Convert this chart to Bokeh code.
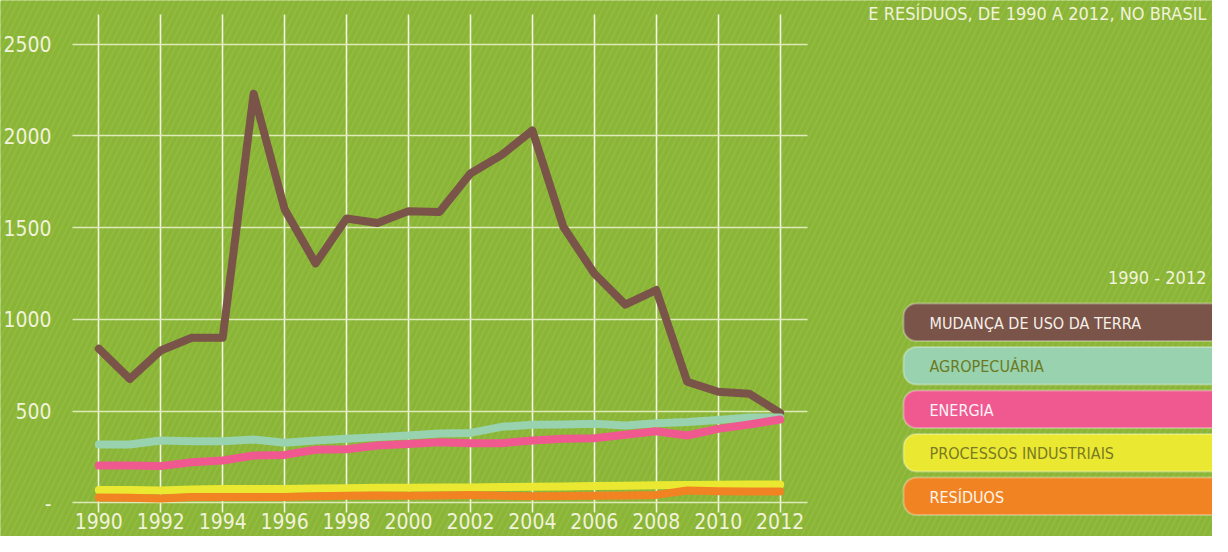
from bokeh.plotting import figure
from bokeh.models import (Range1d, LinearAxis, FixedTicker, BoxAnnotation, Label,
                          ColumnDataSource, Grid)
from bokeh.embed import file_html
from bokeh.resources import INLINE

# ---------------- data ----------------
years = list(range(1990, 2013))
mudanca = [840, 675, 830, 900, 900, 2230, 1600, 1305, 1550, 1525, 1590, 1585,
           1795, 1895, 2030, 1505, 1250, 1080, 1160, 660, 605, 595, 490]
agropecuaria = [318, 318, 340, 336, 336, 345, 327, 340, 349, 358, 367, 378,
                381, 414, 425, 427, 431, 421, 434, 440, 452, 465, 465]
energia = [203, 203, 200, 221, 231, 258, 261, 289, 292, 312, 321, 330,
           325, 325, 340, 349, 352, 371, 390, 367, 403, 427, 454]
processos = [70, 70, 67, 73, 75, 75, 75, 78, 80, 82, 82, 83,
             84, 86, 88, 89, 91, 93, 95, 97, 99, 100, 100]
residuos = [29, 28, 23, 31, 32, 32, 32, 36, 38, 40, 38, 40,
            43, 38, 36, 37, 38, 40, 43, 67, 63, 61, 61]

series_names = ["MUDANÇA DE USO DA TERRA", "AGROPECUÁRIA", "ENERGIA",
                "PROCESSOS INDUSTRIAIS", "RESÍDUOS"]
series_keys = ["mudanca", "agropecuaria", "energia", "processos", "residuos"]
x_ticks = list(range(1990, 2013, 2))
y_ticks = [0, 500, 1000, 1500, 2000, 2500]
y_tick_labels = {0: "-"}
legend_title = "1990 - 2012"
top_title = "E RESÍDUOS, DE 1990 A 2012, NO BRASIL"

# ---------------- style ----------------
GREEN = "#93bd3e"
STRIPE = "#8ab538"
CREAM = "#f1f2da"
FONT = "DejaVu Sans Condensed, Roboto"
line_colors = ["#7a5349", "#98d2ae", "#ef5990", "#ebe832", "#f28322"]
text_colors = ["#f6efe8", "#6b7a22", "#fdf2f6", "#7a7a22", "#fff5ea"]

# canvas-pixel -> data helpers (layout only)
def X(px):
    return 1990 + (px - 98.3) / 30.97

def Y(py):
    return (502.3 - py) / 0.18344

W, H = 1212, 536
p = figure(width=W, height=H, x_range=Range1d(X(0), X(W)),
           y_range=Range1d(Y(H), Y(0)), output_backend="svg",
           toolbar_location=None, x_axis_type=None, y_axis_type=None,
           min_border=0, background_fill_color=GREEN, border_fill_color=GREEN,
           outline_line_color=None)

# striped background
bg = BoxAnnotation(fill_color=GREEN, fill_alpha=1.0, line_color=None,
                   hatch_pattern="/", hatch_color=STRIPE, hatch_scale=12,
                   hatch_weight=4, level="image")
p.add_layout(bg)

# axes
xaxis = LinearAxis(ticker=FixedTicker(ticks=x_ticks), fixed_location=Y(511))
xaxis.axis_line_color = None
xaxis.major_tick_line_color = None
xaxis.minor_tick_line_color = None
xaxis.major_tick_in = 0
xaxis.major_tick_out = 0
xaxis.major_label_standoff = 1
xaxis.major_label_text_font = FONT
xaxis.major_label_text_font_size = "21px"
xaxis.major_label_text_color = CREAM
p.add_layout(xaxis, "below")

yaxis = LinearAxis(ticker=FixedTicker(ticks=y_ticks), fixed_location=X(72))
yaxis.axis_line_color = None
yaxis.major_tick_line_color = None
yaxis.minor_tick_line_color = None
yaxis.major_tick_in = 0
yaxis.major_tick_out = 0
yaxis.major_label_standoff = 21
yaxis.major_label_text_font = FONT
yaxis.major_label_text_font_size = "21px"
yaxis.major_label_text_color = CREAM
yaxis.major_label_overrides = y_tick_labels
p.add_layout(yaxis, "left")

# grids
xgrid = Grid(dimension=0, ticker=FixedTicker(ticks=x_ticks),
             grid_line_color="#f4f5e2", grid_line_width=1.6)
ygrid = Grid(dimension=1, ticker=FixedTicker(ticks=y_ticks),
             grid_line_color="#dfe9ba", grid_line_width=1.6)
try:
    xgrid.cross_bounds = (Y(512), Y(14))
    ygrid.cross_bounds = (X(72), X(806.7))
except AttributeError:
    pass
p.add_layout(xgrid, "center")
p.add_layout(ygrid, "center")

# lines
src = ColumnDataSource(dict(year=years, mudanca=mudanca, agropecuaria=agropecuaria,
                            energia=energia, processos=processos, residuos=residuos))
for key, col in zip(series_keys, line_colors):
    p.line("year", key, source=src, line_color=col, line_width=8,
           line_cap="round", line_join="round")

# legend (custom rounded boxes)
box_tops = [303, 346.5, 390, 433.5, 477]
box_h = 37.5
for name, col, tcol, top in zip(series_names, line_colors, text_colors, box_tops):
    p.add_layout(BoxAnnotation(left=X(903), right=X(1260), top=Y(top), bottom=Y(top + box_h),
                               fill_color=col, fill_alpha=1.0, line_color="#ffffff",
                               line_width=2, border_radius=13, level="annotation"))
    p.add_layout(Label(x=X(929), y=Y(top + box_h / 2 + 1), text=name,
                       text_font=FONT, text_font_size="16px", text_color=tcol,
                       text_baseline="middle", text_align="left"))

p.add_layout(Label(x=X(1206), y=Y(277), text=legend_title, text_font=FONT,
                   text_font_size="18px", text_color=CREAM, text_baseline="middle",
                   text_align="right"))
p.add_layout(Label(x=X(1206), y=Y(2), text=top_title, text_font=FONT,
                   text_font_size="18px", text_color=CREAM, text_baseline="top",
                   text_align="right"))

html = file_html(p, INLINE)
html = html.replace("<body>", '<body style="background-color:%s;">' % GREEN, 1)
open("out.html", "w").write(html)
